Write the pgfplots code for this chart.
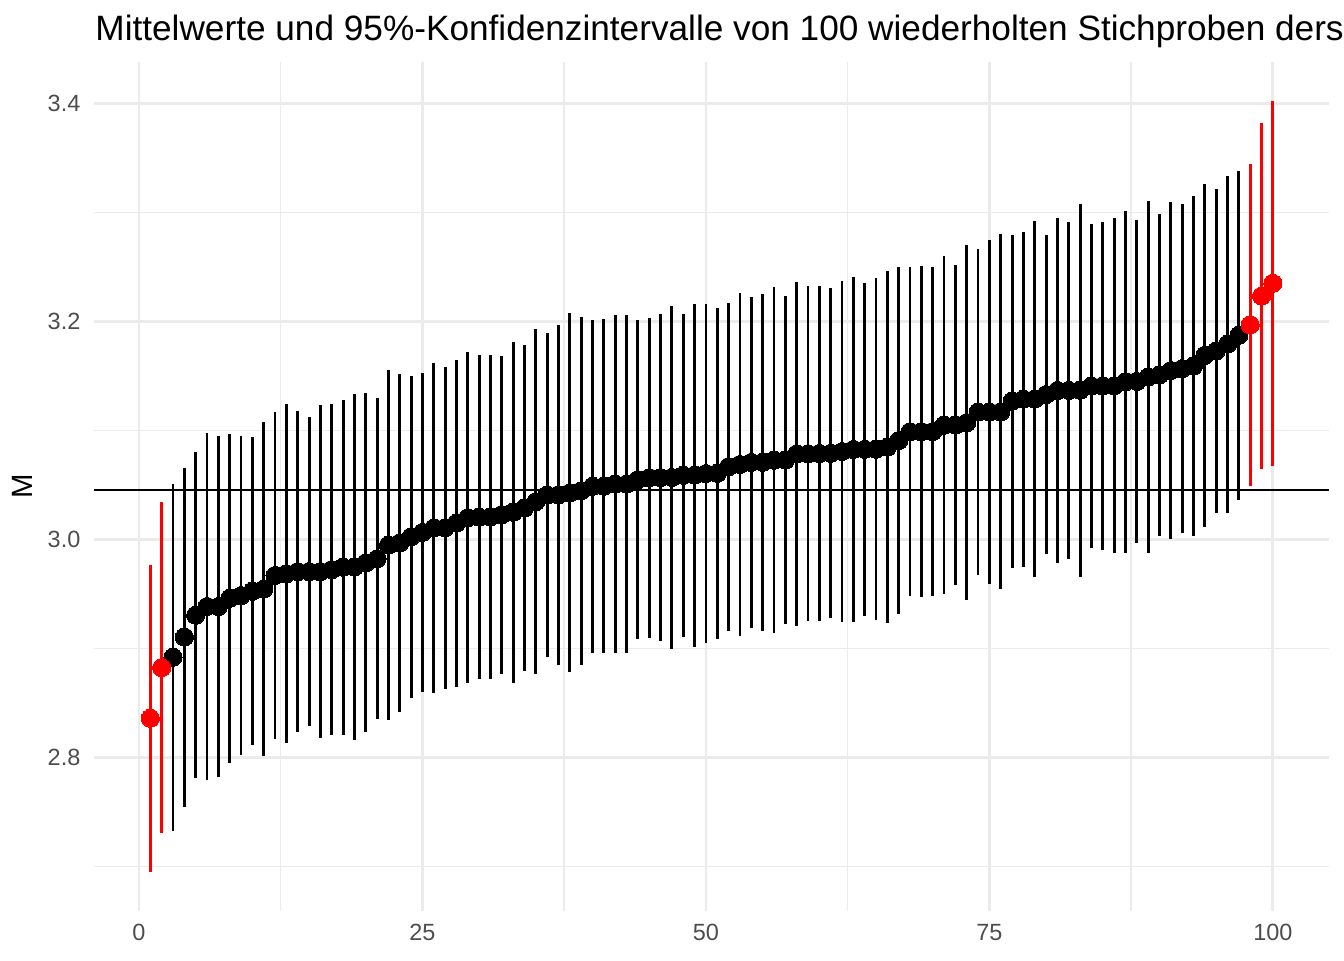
\documentclass[border=0pt]{standalone}
\usepackage{fontspec}
\setmainfont{Liberation Sans}
\usepackage{pgfplots}
\usepackage{pgfplotstable}
\pgfplotsset{compat=1.18}
\definecolor{grid92}{HTML}{EBEBEB}
\definecolor{grey30}{HTML}{4D4D4D}
\definecolor{ggred}{HTML}{FF0000}

% columns: sample index, mean, half width of 95% CI
\pgfplotstableread{
x m e
3 2.8920 0.1590
4 2.9105 0.1555
5 2.9305 0.1495
6 2.9385 0.1595
7 2.9385 0.1565
8 2.9460 0.1510
9 2.9485 0.1465
10 2.9525 0.1415
11 2.9545 0.1535
12 2.9670 0.1500
13 2.9685 0.1555
14 2.9705 0.1475
15 2.9705 0.1415
16 2.9705 0.1525
17 2.9723 0.1517
18 2.9745 0.1535
19 2.9748 0.1588
20 2.9785 0.1555
21 2.9823 0.1473
22 2.9948 0.1608
23 2.9968 0.1553
24 3.0025 0.1475
25 3.0065 0.1465
26 3.0105 0.1515
27 3.0108 0.1478
28 3.0150 0.1500
29 3.0200 0.1519
30 3.0205 0.1485
31 3.0208 0.1488
32 3.0228 0.1458
33 3.0250 0.1565
34 3.0289 0.1495
35 3.0347 0.1581
36 3.0408 0.1483
37 3.0409 0.1560
38 3.0428 0.1648
39 3.0447 0.1598
40 3.0488 0.1525
41 3.0489 0.1532
42 3.0508 0.1552
43 3.0509 0.1552
44 3.0549 0.1465
45 3.0567 0.1468
46 3.0568 0.1499
47 3.0569 0.1573
48 3.0589 0.1481
49 3.0590 0.1572
50 3.0605 0.1557
51 3.0607 0.1520
52 3.0668 0.1505
53 3.0688 0.1571
54 3.0707 0.1516
55 3.0708 0.1545
56 3.0727 0.1588
57 3.0728 0.1506
58 3.0785 0.1576
59 3.0787 0.1537
60 3.0789 0.1536
61 3.0790 0.1514
62 3.0807 0.1567
63 3.0826 0.1586
64 3.0827 0.1529
65 3.0828 0.1571
66 3.0847 0.1616
67 3.0908 0.1592
68 3.0988 0.1508
69 3.0989 0.1518
70 3.0990 0.1508
71 3.1049 0.1552
72 3.1050 0.1468
73 3.1072 0.1627
74 3.1169 0.1497
75 3.1170 0.1577
76 3.1171 0.1629
77 3.1269 0.1528
78 3.1287 0.1537
79 3.1289 0.1636
80 3.1330 0.1464
81 3.1367 0.1580
82 3.1368 0.1548
83 3.1369 0.1710
84 3.1408 0.1484
85 3.1409 0.1505
86 3.1410 0.1537
87 3.1448 0.1568
88 3.1450 0.1483
89 3.1490 0.1618
90 3.1510 0.1479
91 3.1550 0.1545
92 3.1568 0.1511
93 3.1592 0.1560
94 3.1689 0.1572
95 3.1729 0.1489
96 3.1792 0.1546
97 3.1873 0.1511
}\blackdata

\pgfplotstableread{
x m e
1 2.8360 0.1410
2 2.8825 0.1515
98 3.1970 0.1476
99 3.2234 0.1590
100 3.2350 0.1676
}\reddata

\begin{document}
\begin{tikzpicture}
\path[use as bounding box] (0,0) rectangle (504pt,360pt);
\begin{axis}[
  at={(35.325pt,18.5625pt)}, anchor=south west,
  scale only axis, width=463.05pt, height=318.15pt,
  xmin=-3.95, xmax=104.95, ymin=2.6596, ymax=3.438,
  xtick={0,25,50,75,100},
  ytick={2.8,3.0,3.2,3.4},
  minor xtick={12.5,37.5,62.5,87.5},
  minor ytick={2.7,2.9,3.1,3.3},
  grid=both,
  major grid style={draw=grid92, line width=1.07pt},
  minor grid style={draw=grid92, line width=0.53pt},
  axis line style={draw=none},
  tick style={draw=none},
  /pgf/number format/assume math mode=true,
  yticklabel style={/pgf/number format/fixed, /pgf/number format/fixed zerofill, /pgf/number format/precision=1,
    anchor=east, inner sep=0pt, xshift=-5pt},
  ticklabel style={font=\fontsize{8.8}{10}\selectfont, text=grey30},
  xticklabel style={anchor=north, inner sep=0pt, yshift=-5pt},
  ylabel={M},
  ylabel style={at={(axis description cs:-0.0585,0.5)}, anchor=center, font=\fontsize{11}{13}\selectfont},
  clip=false,
]
\addplot[black, line width=1.07pt] coordinates {(-3.95,3.0454) (104.95,3.0454)};
\addplot[draw=none, mark=none, forget plot,
  error bars/.cd, y dir=both, y explicit, error mark=none,
  error bar style={black, line width=1.07pt}]
  table[x=x, y=m, y error=e] {\blackdata};
\addplot[draw=none, mark=none, forget plot,
  error bars/.cd, y dir=both, y explicit, error mark=none,
  error bar style={ggred, line width=1.07pt}]
  table[x=x, y=m, y error=e] {\reddata};
\addplot[only marks, mark=*, mark size=3.4pt, mark options={fill=black, draw=black, line width=0pt}]
  table[x=x, y=m] {\blackdata};
\addplot[only marks, mark=*, mark size=3.4pt, mark options={fill=ggred, draw=ggred, line width=0pt}]
  table[x=x, y=m] {\reddata};
\end{axis}
\node[anchor=base west, inner sep=0pt, font=\fontsize{13.2}{15.8}\selectfont] at (35.6pt,344.7pt)
  {Mittelwerte und 95\%-Konfidenzintervalle von 100 wiederholten Stichproben ders};
\end{tikzpicture}
\end{document}
